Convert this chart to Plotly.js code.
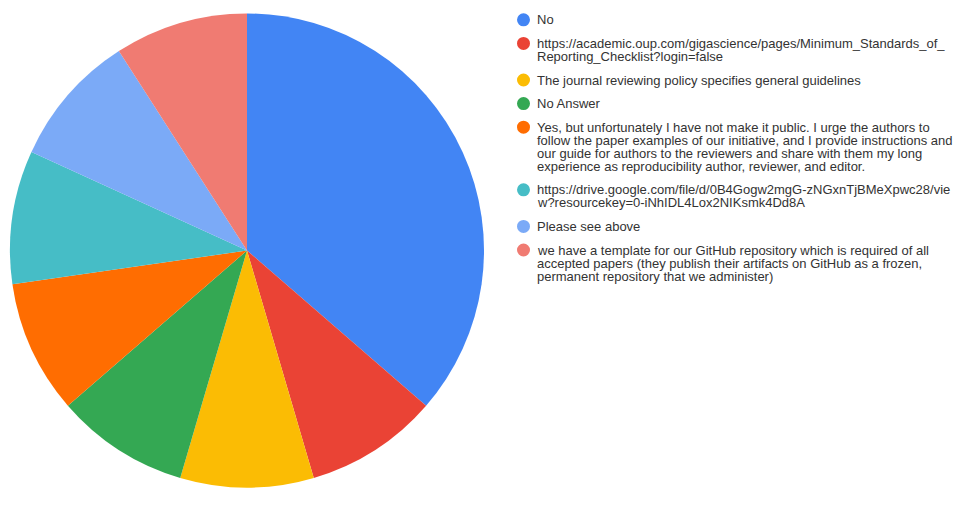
<!DOCTYPE html>
<html>
<head>
<meta charset="utf-8">
<script src="https://cdn.plot.ly/plotly-3.0.1.min.js"></script>
<style>html,body{margin:0;padding:0;background:#fff;}#chart{width:957px;height:512px;}</style>
</head>
<body>
<div id="chart"></div>
<script>
const labels = [
  "No",
  "https://academic.oup.com/gigascience/pages/Minimum_Standards_of_<br>Reporting_Checklist?login=false",
  "The journal reviewing policy specifies general guidelines",
  "No Answer",
  "Yes, but unfortunately I have not make it public. I urge the authors to<br>follow the paper examples of our initiative, and I provide instructions and<br>our guide for authors to the reviewers and share with them my long<br>experience as reproducibility author, reviewer, and editor.",
  "https://drive.google.com/file/d/0B4Gogw2mgG-zNGxnTjBMeXpwc28/vie<br>w?resourcekey=0-iNhIDL4Lox2NIKsmk4Dd8A",
  "Please see above",
  "we have a template for our GitHub repository which is required of all<br>accepted papers (they publish their artifacts on GitHub as a frozen,<br>permanent repository that we administer)"
];
const counts = [4, 1, 1, 1, 1, 1, 1, 1];
const colors = ["#4285F4", "#EA4335", "#FBBC04", "#34A853", "#FF6D01", "#46BDC6", "#7BAAF7", "#F07B72"];

const W = 957, H = 512;
const FONT = "Liberation Sans, Arial, sans-serif";

const traces = [{
  type: "pie",
  values: counts,
  labels: labels,
  sort: false,
  direction: "clockwise",
  rotation: 0,
  textinfo: "none",
  showlegend: false,
  marker: {colors: colors, line: {width: 0}},
  domain: {x: [10 / W, 484 / W], y: [1 - 487.5 / H, 1 - 13.5 / H]}
}];

// Legend drawn like the original (tight line spacing, marker on first line)
const LEG_MARKER_X = 523.5, LEG_TEXT_X = 535, LEG_START_Y = 19.8;
const LINE_STEP = 13, ITEM_STEP = 23.6, R = 6.5;
const annotations = [], shapes = [];
let y = LEG_START_Y;
labels.forEach((lab, i) => {
  const lines = lab.split("<br>");
  shapes.push({
    type: "circle", xref: "paper", yref: "paper",
    xsizemode: "pixel", ysizemode: "pixel",
    xanchor: LEG_MARKER_X / W, yanchor: 1 - y / H,
    x0: -R, x1: R, y0: -R, y1: R,
    fillcolor: colors[i], line: {width: 0}
  });
  lines.forEach((ln, k) => {
    annotations.push({
      xref: "paper", yref: "paper",
      x: LEG_TEXT_X / W, y: 1 - (y + k * LINE_STEP) / H,
      xanchor: "left", yanchor: "middle",
      text: ln, showarrow: false,
      font: {family: FONT, size: 13, color: "#333"}
    });
  });
  y += (lines.length - 1) * LINE_STEP + ITEM_STEP;
});

const layout = {
  width: W, height: H,
  margin: {l: 0, r: 0, t: 0, b: 0},
  paper_bgcolor: "#fff", plot_bgcolor: "#fff",
  font: {family: FONT, size: 13, color: "#333"},
  showlegend: false,
  annotations: annotations,
  shapes: shapes
};
Plotly.newPlot("chart", traces, layout, {displayModeBar: false, staticPlot: true});
</script>
</body>
</html>
